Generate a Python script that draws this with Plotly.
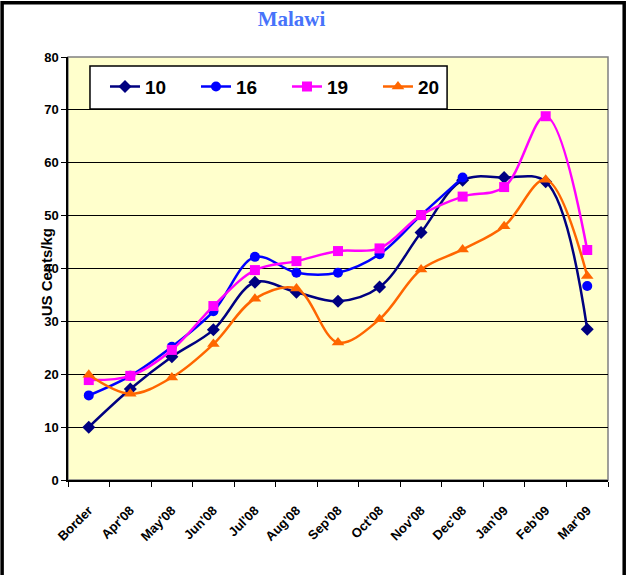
import plotly.graph_objects as go

# ---------------------------------------------------------------------------
# Data (US cents/kg)
# ---------------------------------------------------------------------------
MONTHS = ["Border", "Apr'08", "May'08", "Jun'08", "Jul'08", "Aug'08", "Sep'08",
          "Oct'08", "Nov'08", "Dec'08", "Jan'09", "Feb'09", "Mar'09"]

GRADE_10 = [10.0, 17.2, 23.3, 28.4, 37.4, 35.5, 33.8, 36.5, 46.8, 56.7, 57.2, 56.4, 28.5]
GRADE_16 = [16.0, 19.7, 25.2, 31.9, 42.2, 39.2, 39.2, 42.7, 50.1, 57.2, None, None, 36.7]
GRADE_19 = [18.9, 19.7, 24.6, 32.9, 39.7, 41.4, 43.3, 43.8, 50.1, 53.6, 55.4, 68.8, 43.5]
GRADE_20 = [19.9, 16.3, 19.4, 25.7, 34.3, 36.2, 26.0, 30.4, 39.8, 43.6, 48.0, 56.8, 38.6]

# ---------------------------------------------------------------------------
# Styling
# ---------------------------------------------------------------------------
FONT = "Liberation Sans, Arial, sans-serif"
PLOT_BG = "#FFFFCC"

SERIES = [
    ("10", GRADE_10, "#000080", "diamond", 10),
    ("16", GRADE_16, "#0000FF", "circle", 10),
    ("19", GRADE_19, "#FF00FF", "square", 10),
    ("20", GRADE_20, "#FF6600", "triangle-up", 11),
]

fig = go.Figure()
for name, values, color, symbol, size in SERIES:
    fig.add_trace(
        go.Scatter(
            x=MONTHS,
            y=values,
            name=name,
            mode="lines+markers",
            line=dict(color=color, width=2.5, shape="spline", smoothing=1.0),
            marker=dict(symbol=symbol, size=size, color=color),
            connectgaps=False,
        )
    )

fig.update_layout(
    width=627,
    height=575,
    paper_bgcolor="white",
    plot_bgcolor=PLOT_BG,
    margin=dict(l=68, r=19, t=57, b=95),
    font=dict(family=FONT, size=12, color="black"),
    title=dict(
        text="<b>Malawi</b>",
        x=0.465,
        xanchor="center",
        y=0.968,
        yanchor="middle",
        font=dict(family="Liberation Serif, Times New Roman, serif", size=21, color="#4773FA"),
    ),
    showlegend=True,
    legend=dict(
        orientation="h",
        x=0.0685,
        y=0.975,
        xanchor="left",
        yanchor="top",
        bgcolor="rgba(0,0,0,0)",
        borderwidth=0,
        font=dict(family=FONT, size=19, color="black", weight="bold"),
        entrywidth=46,
        itemwidth=30,
        tracegroupgap=0,
    ),
    shapes=[
        # outer frame of the chart
        dict(type="rect", xref="paper", yref="paper", x0=-0.122, x1=1.030, y0=-0.3, y1=1.128,
             line=dict(color="black", width=3.5), layer="above"),
        # grey plot border
        dict(type="rect", xref="paper", yref="paper", x0=0, x1=1, y0=0, y1=1,
             line=dict(color="#808080", width=1.5), layer="below"),
        # legend box
        dict(type="rect", xref="paper", yref="paper", x0=0.0407, x1=0.702, y0=0.877, y1=0.979,
             fillcolor="white", line=dict(color="black", width=1.5), layer="above"),
    ],
    annotations=[
        dict(text="<b>US Cents/kg</b>", xref="paper", yref="paper", x=-0.059, y=0.49,
             textangle=-90, showarrow=False, font=dict(family=FONT, size=15, color="black")),
    ],
)

fig.update_xaxes(
    type="category",
    automargin=False,
    showgrid=False,
    showline=True,
    linecolor="black",
    linewidth=1.5,
    ticks="outside",
    ticklen=5,
    tickcolor="black",
    tickson="boundaries",
    tickangle=-45,
    ticklabelstandoff=16,
    tickfont=dict(family=FONT, size=13, color="black", weight="bold"),
    range=[-0.5, 12.5],
)
fig.update_yaxes(
    range=[0, 80],
    dtick=10,
    automargin=False,
    showgrid=True,
    gridcolor="black",
    gridwidth=1,
    showline=True,
    linecolor="black",
    linewidth=1.5,
    ticks="outside",
    ticklen=5,
    tickcolor="black",
    zeroline=False,
    tickfont=dict(family=FONT, size=13, color="black", weight="bold"),
)

# remove the browser's default body margin so the figure sits at the page origin
fig.write_html(
    "out.html",
    config={"displayModeBar": False},
    post_script="document.body.style.margin = '0';",
)
